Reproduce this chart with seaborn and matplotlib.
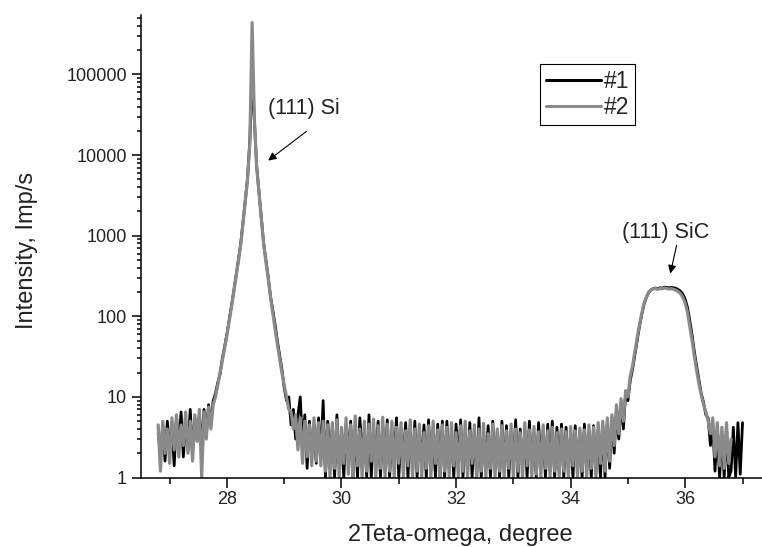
import numpy as np
import matplotlib
matplotlib.use('Agg')
import matplotlib.pyplot as plt
from matplotlib import ticker
import seaborn as sns

# --- scan grid (2Teta-omega, degree) ---
scan_start = 26.80
scan_step = 0.04

# --- intensity, Imp/s (one line = 1 degree) ---
counts_1 = [
    3.5, 2.0, 4.5, 1.6, 5, 2.4, 4.0, 1.4, 5.5, 2.6, 6.5, 1.8, 5, 2.2, 7, 2.0, 5.5, 3.0, 6, 2.5, 7, 3.5, 8, 4.5, 9,
    11, 15, 19, 30, 42, 60, 90, 135, 205, 320, 500, 780, 1450, 2700, 5200, 15000, 95000, 26000, 7200, 3500, 1650, 820, 500, 310, 180,
    120, 80, 50, 33, 22, 13, 9, 10, 4.5, 7, 3, 6, 10, 2.5, 6, 1.3, 5, 2, 4, 1.5, 5.5, 1.8, 9, 1.0, 5,
    2.0, 4.0, 1.0, 6.0, 1.5, 3.5, 1.0, 4.5, 2.0, 5.0, 1.0, 4.0, 1.0, 5.5, 2.2, 3.8, 1.0, 6.0, 1.0, 4.2, 1.6, 5.0, 1.0, 4.5, 1.2,
    5.2, 1.0, 4.0, 1.6, 5.5, 1.0, 3.5, 1.8, 4.8, 1.0, 4.2, 1.2, 5.0, 1.0, 3.8, 1.6, 4.5, 1.0, 5.2, 1.2, 4.0, 1.0, 4.6, 1.0, 5.0,
    1.0, 5.0, 1.3, 3.8, 1.0, 4.6, 1.6, 5.2, 1.0, 3.5, 1.2, 4.8, 1.0, 4.0, 1.0, 5.5, 1.0, 3.6, 1.4, 4.4, 1.0, 5.0, 1.2, 3.8, 1.0,
    5.0, 1.2, 4.4, 1.0, 3.6, 1.5, 5.2, 1.0, 4.0, 1.3, 3.8, 1.0, 5.0, 1.2, 3.6, 1.0, 4.8, 1.5, 3.9, 1.0, 4.6, 1.2, 5.0, 1.0, 4.2,
    1.2, 4.6, 1.0, 4.2, 1.3, 3.6, 1.0, 4.4, 1.2, 3.8, 1.0, 4.6, 1.2, 3.6, 1.0, 4.4, 1.1, 4.0, 1.0, 4.4, 1.0, 5.0, 1.3, 5.5, 2.0,
    7.0, 3.0, 8.5, 4.0, 11, 9, 16, 22, 33, 50, 74, 104, 140, 170, 196, 212, 220, 224, 220, 226, 224, 230, 228, 226, 228,
    226, 222, 214, 204, 188, 162, 128, 88, 58, 36, 24, 16, 11, 8.5, 6.0, 5.5, 2.5, 4.5, 1.2, 3.8, 1.0, 3.5, 1.0, 4.0, 1.0,
    1.2, 4.2, 1.0, 4.8, 1.1, 4.8,
]

counts_2 = [
    4.5, 1.2, 5, 2.0, 4, 1.5, 5.5, 2.2, 6, 1.8, 4.5, 2.5, 6.5, 2, 5, 1.6, 6, 2.8, 7, 1.0, 6.5, 3, 7.5, 4, 8,
    10, 14, 20, 28, 40, 58, 87, 130, 200, 310, 480, 760, 1400, 2600, 5000, 14000, 440000, 28000, 7000, 3400, 1600, 800, 480, 300, 175,
    110, 70, 45, 30, 20, 14, 10, 7, 6.5, 4, 6, 2.2, 5.5, 1.5, 5, 1.8, 4.5, 1.4, 5.5, 1.6, 4.8, 1.4, 5, 1.2, 4.5,
    1.0, 4.8, 1.3, 5.2, 1.0, 4.2, 1.5, 5.5, 1.1, 4.5, 1.0, 5.8, 1.4, 4.0, 1.0, 5.0, 1.2, 4.6, 1.6, 5.3, 1.0, 4.4, 1.3, 5.6, 1.0,
    4.6, 1.2, 5.0, 1.0, 4.2, 1.5, 4.8, 1.0, 3.8, 1.4, 5.2, 1.0, 4.0, 1.2, 4.6, 1.0, 3.6, 1.3, 4.4, 1.0, 5.0, 1.5, 3.9, 1.0, 4.5,
    1.2, 4.2, 1.0, 4.8, 1.4, 3.6, 1.0, 4.4, 1.2, 5.0, 1.0, 3.8, 1.5, 4.5, 1.0, 4.0, 1.2, 4.7, 1.0, 3.5, 1.3, 4.6, 1.0, 4.0, 1.2,
    4.4, 1.0, 3.8, 1.3, 4.6, 1.0, 4.0, 1.2, 3.6, 1.0, 4.8, 1.4, 3.9, 1.0, 4.3, 1.1, 3.7, 1.0, 4.5, 1.3, 3.8, 1.0, 4.2, 1.2, 3.6,
    1.0, 4.0, 1.2, 3.7, 1.0, 4.3, 1.4, 3.8, 1.0, 4.1, 1.2, 3.9, 1.0, 4.5, 1.3, 4.2, 1.0, 4.8, 1.5, 5.0, 1.2, 5.5, 1.6, 6.0, 2.5,
    8.0, 3.5, 9.5, 5.0, 12, 10, 18, 24, 36, 54, 78, 108, 145, 172, 198, 212, 218, 222, 216, 222, 220, 225, 221, 218, 220,
    216, 210, 202, 190, 170, 145, 112, 74, 50, 32, 21, 14.5, 10.5, 8.0, 6.5, 5.0, 3.5, 5.5, 1.8, 4.8, 1.4, 4.2, 1.3, 4.8, 1.5,
    3.0,
]

series_labels = ['#1', '#2']
series_colors = ['black', '#8a8a8a']
peak_labels = ['(111) Si', '(111) SiC']

x1 = np.round(scan_start + scan_step * np.arange(len(counts_1)), 2)
x2 = np.round(scan_start + scan_step * np.arange(len(counts_2)), 2)

# --- figure ---
sns.set_style('ticks')
plt.rcParams['font.family'] = ['Liberation Sans', 'DejaVu Sans']

fig = plt.figure(figsize=(7.62, 5.47), dpi=100)
ax = fig.add_axes([0.185, 0.127, 0.815, 0.846])

sns.lineplot(x=x1, y=counts_1, color=series_colors[0], lw=2.0, label=series_labels[0],
             estimator=None, sort=False, ax=ax)
sns.lineplot(x=x2, y=counts_2, color=series_colors[1], lw=2.3, label=series_labels[1],
             estimator=None, sort=False, ax=ax)

ax.set_yscale('log')
ax.set_xlim(26.5, 37.34)
ax.set_ylim(1, 5.5e5)
sns.despine(ax=ax)
for side in ['left', 'bottom']:
    ax.spines[side].set_linewidth(1.1)
    ax.spines[side].set_color('black')

ax.xaxis.set_major_locator(ticker.MultipleLocator(2))
ax.xaxis.set_minor_locator(ticker.MultipleLocator(1))
ax.xaxis.set_major_formatter(ticker.FuncFormatter(lambda v, _: f'{v:.0f}'))
ax.yaxis.set_major_locator(ticker.LogLocator(base=10))
ax.yaxis.set_minor_locator(ticker.LogLocator(base=10, subs=np.arange(2, 10)))
ax.yaxis.set_major_formatter(ticker.FuncFormatter(lambda v, _: f'{v:.0f}'))
ax.yaxis.set_minor_formatter(ticker.NullFormatter())

ax.tick_params(axis='both', which='both', direction='out', width=1.1,
               labelsize=13, labelcolor='#222222', color='black')
ax.tick_params(axis='x', which='major', length=7, pad=3)
ax.tick_params(axis='x', which='minor', length=4.5)
ax.tick_params(axis='y', which='major', length=6.5, pad=3.5)
ax.tick_params(axis='y', which='minor', length=3)

ax.set_xlabel('2Teta-omega, degree', fontsize=17, color='#222222')
ax.set_ylabel('Intensity, Imp/s', fontsize=17, color='#222222')
ax.xaxis.set_label_coords(0.514, -0.1)
ax.yaxis.set_label_coords(-0.166, 0.49)

# peak annotations
arrow_style = dict(arrowstyle='-|>', color='black', lw=0.8, shrinkA=0, shrinkB=0,
                   mutation_scale=12)
ax.text(29.345, 37600, peak_labels[0], ha='center', va='center', fontsize=15.5, color='#222222')
ax.annotate('', xy=(28.72, 8550), xytext=(29.39, 19700), arrowprops=arrow_style)
ax.text(35.66, 1100, peak_labels[1], ha='center', va='center', fontsize=15.5, color='#222222')
ax.annotate('', xy=(35.74, 340), xytext=(35.85, 760), arrowprops=arrow_style)

leg = ax.legend(loc='upper left', bbox_to_anchor=(0.6425, 0.894), fontsize=16.5,
                frameon=True, fancybox=False, edgecolor='black', framealpha=1,
                borderaxespad=0, borderpad=0.25, labelspacing=0.15,
                handlelength=2.4, handletextpad=0.15)
leg.get_frame().set_linewidth(0.8)
for line in leg.get_lines():
    line.set_linewidth(2.2)

plt.savefig('out.png', dpi=100)
